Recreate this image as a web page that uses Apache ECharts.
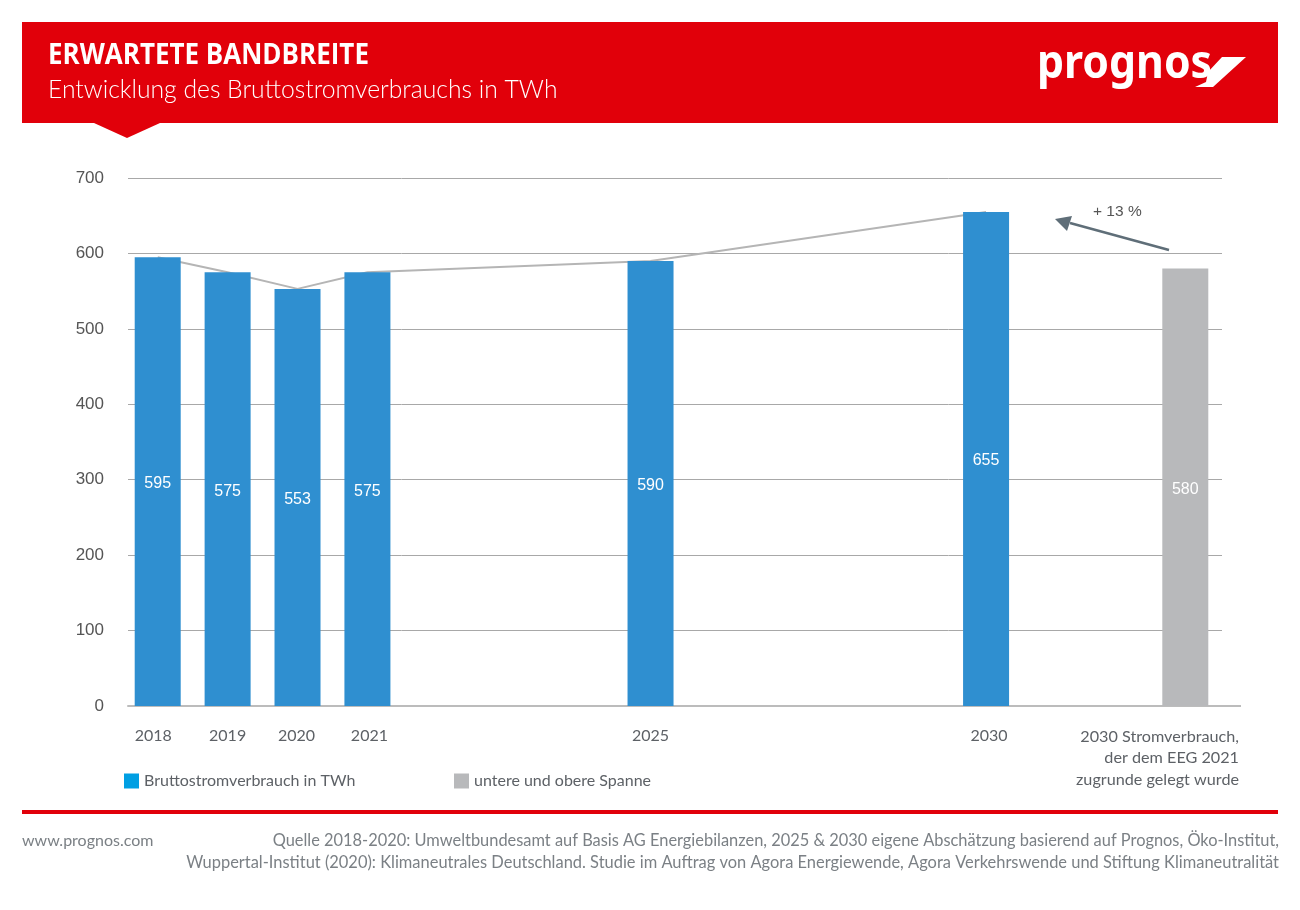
<!DOCTYPE html>
<html>
<head>
<meta charset="utf-8">
<style>html,body{margin:0;padding:0;background:#fff}#c{width:1300px;height:910px}</style>
<script src="https://cdn.jsdelivr.net/npm/echarts@6/dist/echarts.min.js"></script>
</head>
<body>
<div id="c"></div>
<script>
// ---- data ----
const years = ['2018', '2019', '2020', '2021', '2025', '2030'];
const blueValues = [595, 575, 553, 575, 590, 655];
const eegLabel = ['2030 Stromverbrauch,', 'der dem EEG 2021', 'zugrunde gelegt wurde'];
const greyValue = [580];
const yTicks = [0, 100, 200, 300, 400, 500, 600, 700];
const blueName = 'Bruttostromverbrauch in TWh';
const greyName = 'untere und obere Spanne';
const titleText = 'ERWARTETE BANDBREITE';
const subtitleText = 'Entwicklung des Bruttostromverbrauchs in TWh';
const annotationText = '+ 13 %';
const siteText = 'www.prognos.com';
const sourceLines = [
  'Quelle 2018-2020: Umweltbundesamt auf Basis AG Energiebilanzen, 2025 & 2030 eigene Abschätzung basierend auf Prognos, Öko-Institut,',
  'Wuppertal-Institut (2020): Klimaneutrales Deutschland. Studie im Auftrag von Agora Energiewende, Agora Verkehrswende und Stiftung Klimaneutralität'
];

// ---- unevenly spaced category slots on the axis ----
const slotCount = 313;
const yearSlots = [8, 28, 48, 68, 149, 245];
const eegSlot = 302;
const labelPad = [[0, 9, 0, 0], [0, 0, 0, 0], [0, 2, 0, 0], [0, 0, 0, 4], [0, 0, 0, 0], [0, 0, 0, 6]];
const categories = new Array(slotCount).fill('');
yearSlots.forEach((s, i) => { categories[s] = {value: years[i], textStyle: {padding: labelPad[i]}}; });
const blueData = new Array(slotCount).fill(null);
const lineData = new Array(slotCount).fill(null);
const greyData = new Array(slotCount).fill(null);
yearSlots.forEach((s, i) => { blueData[s] = blueValues[i]; lineData[s] = blueValues[i]; });
greyData[eegSlot] = greyValue[0];

const TXT = '#5d6166';
const FONT = 'Lato';
const RED = '#e1000a';
const chart = echarts.init(document.getElementById('c'), null, {renderer: 'canvas'});

const barLabel = {show: true, position: 'inside', offset: [0, 2], color: '#fff', fontFamily: 'Liberation Sans', fontSize: 16};

chart.setOption({
  animation: false,
  backgroundColor: '#fff',
  grid: {left: 128, right: 78, top: 178, height: 528, containLabel: false},
  xAxis: {
    type: 'category', data: categories, boundaryGap: true,
    axisTick: {show: false},
    axisLine: {lineStyle: {color: '#bcbcbc', width: 2}},
    axisLabel: {interval: 0, margin: 22, color: TXT, fontFamily: FONT, fontSize: 16, hideOverlap: false}
  },
  yAxis: {
    type: 'value', min: yTicks[0], max: yTicks[yTicks.length - 1], interval: 100,
    axisLine: {show: false}, axisTick: {show: false},
    axisLabel: {margin: 24, color: '#555', fontFamily: 'Liberation Sans', fontSize: 17},
    splitLine: {lineStyle: {color: '#a8a8a8', width: 1}}
  },
  legend: [
    {left: 119, top: 768, itemWidth: 15, itemHeight: 15, itemGap: 6, icon: 'rect', selectedMode: false,
     textStyle: {color: TXT, fontFamily: FONT, fontSize: 16},
     data: [{name: blueName, itemStyle: {color: '#009fe3'}}]},
    {left: 449, top: 768, itemWidth: 15, itemHeight: 15, itemGap: 6, icon: 'rect', selectedMode: false,
     textStyle: {color: TXT, fontFamily: FONT, fontSize: 16},
     data: [{name: greyName, itemStyle: {color: '#b8b9bb'}}]}
  ],
  series: [
    {type: 'line', name: 'Verlauf', data: lineData, connectNulls: true, showSymbol: false, symbol: 'none', z: 1,
     lineStyle: {color: '#b5b5b5', width: 2}},
    {type: 'bar', name: blueName, data: blueData, barWidth: 46, barGap: '-100%', z: 2,
     itemStyle: {color: '#2f8fd0'}, label: barLabel},
    {type: 'bar', name: greyName, data: greyData, barWidth: 46, barGap: '-100%', z: 2,
     itemStyle: {color: '#b8b9bb'}, label: barLabel}
  ],
  graphic: {elements: [
    {type: 'rect', shape: {x: 22, y: 22, width: 1256, height: 101}, style: {fill: RED}},
    {type: 'polygon', shape: {points: [[94, 123], [160, 123], [127, 138]]}, style: {fill: RED}},
    {type: 'text', x: 48, y: 42, scaleX: 0.928, style: {text: titleText, fill: '#fff', font: 'bold 28px "Open Sans"'}},
    {type: 'text', x: 48, y: 78, style: {text: subtitleText, fill: '#fff', font: '300 24.7px Lato'}},
    {type: 'text', x: 1037, y: 42, scaleX: 0.93, style: {text: 'prognos', fill: '#fff', font: 'bold 46px "Noto Sans"'}},
    {type: 'polygon', shape: {points: [[1246, 57], [1222, 57], [1208, 72], [1206, 82], [1195, 87], [1213, 87]]}, style: {fill: '#fff'}},
    {type: 'line', shape: {x1: 1222, y1: 706, x2: 1241, y2: 706}, style: {stroke: '#bcbcbc', lineWidth: 2}},
    {type: 'line', shape: {x1: 1169, y1: 250, x2: 1070, y2: 223}, style: {stroke: '#5f6e78', lineWidth: 2.5}},
    {type: 'polygon', shape: {points: [[1055, 219], [1072, 216], [1067, 231]]}, style: {fill: '#5f6e78'}},
    {type: 'text', x: 1093, y: 204, style: {text: annotationText, fill: '#555', font: '15.5px "Liberation Sans"'}},
    {type: 'text', x: 1239, y: 726, style: {text: eegLabel.join('\n'), fill: TXT, font: '16.2px Lato', align: 'right', lineHeight: 21.5}},
    {type: 'rect', shape: {x: 22, y: 810, width: 1256, height: 4}, style: {fill: RED}},
    {type: 'text', x: 22, y: 833, style: {text: siteText, fill: '#7b8085', font: '16px Lato'}},
    {type: 'text', x: 1279, y: 833, style: {text: sourceLines[0], fill: '#7b8085', font: '16.4px Lato', align: 'right'}},
    {type: 'text', x: 1279, y: 855, style: {text: sourceLines[1], fill: '#7b8085', font: '16.45px Lato', align: 'right'}}
  ]}
});
</script>
</body>
</html>
